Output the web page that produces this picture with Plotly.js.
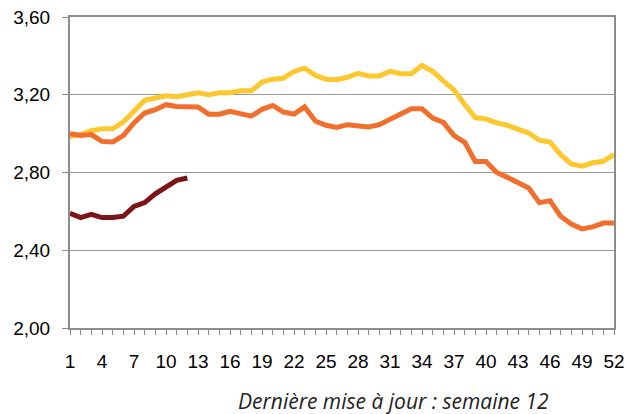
<!DOCTYPE html>
<html>
<head>
<meta charset="utf-8">
<script src="https://cdn.plot.ly/plotly-3.0.1.min.js"></script>
<style>html,body{margin:0;padding:0;background:#fff;}#chart{width:627px;height:414px;}</style>
</head>
<body>
<div id="chart"></div>
<script>
// Semaines
var weeks = [];
for (var i = 1; i <= 52; i++) weeks.push(i);
var weeksCurrent = weeks.slice(0, 12);

var tickValues = [1,4,7,10,13,16,19,22,25,28,31,34,37,40,43,46,49,52];

// Série jaune (année N-2)
var seriesYellow = [2.985,2.995,3.015,3.025,3.025,3.06,3.115,3.172,3.183,3.195,3.19,3.20,3.21,3.20,3.21,3.21,3.22,3.22,3.265,3.28,
  3.285,3.32,3.337,3.30,3.28,3.277,3.29,3.31,3.297,3.297,3.32,3.308,3.308,3.35,3.32,3.272,3.225,3.15,3.082,3.075,
  3.055,3.043,3.026,3.003,2.966,2.957,2.892,2.844,2.832,2.85,2.858,2.892];

// Série orange (année N-1)
var seriesOrange = [3.00,2.99,2.995,2.96,2.957,2.99,3.055,3.106,3.123,3.149,3.14,3.14,3.137,3.10,3.10,3.115,3.105,3.09,3.125,3.145,
  3.111,3.10,3.137,3.065,3.043,3.032,3.046,3.038,3.034,3.046,3.075,3.10,3.128,3.128,3.08,3.058,2.99,2.955,2.857,2.857,
  2.80,2.775,2.75,2.72,2.645,2.655,2.575,2.535,2.51,2.52,2.54,2.54];

// Série bordeaux (année N, jusqu'à la semaine 12)
var seriesDark = [2.59,2.568,2.585,2.568,2.568,2.575,2.625,2.645,2.69,2.722,2.76,2.772];

var traces = [
  {x: weeks, y: seriesYellow, name: 'Année N-2', type: 'scatter', mode: 'lines',
   line: {color: '#FDC82F', width: 5}},
  {x: weeks, y: seriesOrange, name: 'Année N-1', type: 'scatter', mode: 'lines',
   line: {color: '#F26E2C', width: 5}},
  {x: weeksCurrent, y: seriesDark, name: 'Année N', type: 'scatter', mode: 'lines',
   line: {color: '#7A1416', width: 5}}
];

var axisFont = {family: 'Arial, Liberation Sans, sans-serif', size: 19, color: '#000'};

var layout = {
  width: 627, height: 414,
  margin: {l: 70, r: 13, t: 17, b: 86},
  paper_bgcolor: '#ffffff', plot_bgcolor: '#ffffff',
  showlegend: false,
  separators: ',.',
  font: axisFont,
  xaxis: {
    range: [1, 52],
    tickmode: 'array', tickvals: tickValues, ticktext: tickValues.map(String),
    ticks: 'outside', ticklen: 5, tickcolor: '#8c8c8c', tickwidth: 1,
    minor: {dtick: 1, tick0: 1, ticks: 'outside', ticklen: 5, tickcolor: '#8c8c8c', tickwidth: 1, showgrid: false},
    showgrid: false, zeroline: false,
    showline: true, linecolor: '#8c8c8c', linewidth: 2, mirror: true,
    ticklabelstandoff: 10,
    tickfont: axisFont
  },
  yaxis: {
    range: [2.0, 3.6],
    tickmode: 'array', tickvals: [2.0, 2.4, 2.8, 3.2, 3.6],
    tickformat: '.2f',
    ticks: 'outside', ticklen: 6, tickcolor: '#8c8c8c', tickwidth: 1,
    showgrid: true, gridcolor: '#9a9a9a', gridwidth: 1,
    zeroline: false,
    showline: true, linecolor: '#8c8c8c', linewidth: 2, mirror: true,
    ticklabelstandoff: 8,
    tickfont: axisFont
  },
  annotations: [{
    text: 'Dernière mise à jour : semaine 12',
    xref: 'paper', yref: 'paper', x: 0.594, y: -0.234,
    xanchor: 'center', yanchor: 'middle', showarrow: false,
    font: {family: 'Open Sans, sans-serif', size: 21, color: '#222', style: 'italic'}
  }]
};

Plotly.newPlot('chart', traces, layout, {displayModeBar: false, staticPlot: true});
</script>
</body>
</html>
